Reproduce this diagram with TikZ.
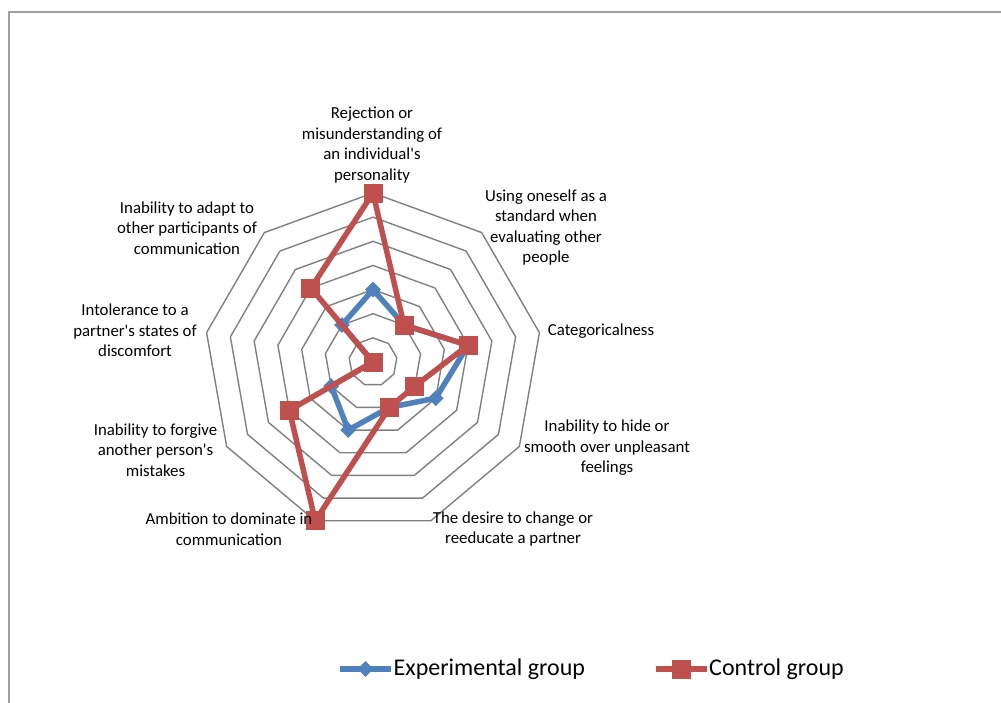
\documentclass[tikz,border=0pt]{standalone}
\usepackage{fontspec}
\setmainfont{Carlito}
\usetikzlibrary{shapes}
\definecolor{expblue}{RGB}{79,129,189}
\definecolor{ctrlred}{RGB}{192,80,77}
\definecolor{gridgray}{RGB}{128,128,128}

\begin{document}
\begin{tikzpicture}[x=1pt, y=-1pt,
  lbl/.style={align=center, inner sep=0pt, font=\fontsize{16.8}{20.5}\selectfont},
  ring/.style={draw=gridgray, line width=1.4pt},
  expline/.style={draw=expblue, line width=5.5pt, line join=round},
  ctrlline/.style={draw=ctrlred, line width=5.5pt, line join=round},
  expmark/.style={diamond, fill=expblue, inner sep=0pt, minimum size=16pt},
  ctrlmark/.style={rectangle, fill=ctrlred, inner sep=0pt, minimum size=19pt}]
\useasboundingbox (0,0) rectangle (1001,703);
\draw[gray!75, line width=2pt] (8.5,703) -- (8.5,12) -- (1001,12);

\begin{scope}[shift={(373,362)}]
  \foreach \r in {1,...,7}
    \draw[ring] (-90:{\r*24.14}) \foreach \k in {1,...,8} { -- ({-90+40*\k}:{\r*24.14}) } -- cycle;
  % experimental group
  \foreach \v [count=\k from 0] in {3,2,4,3,2,3,2,0,2}
    \coordinate (e\k) at ({-90+40*\k}:{\v*24.14});
  % control group
  \foreach \v [count=\k from 0] in {7,2,4,2,2,7,4,0,4}
    \coordinate (c\k) at ({-90+40*\k}:{\v*24.14});
\end{scope}

\draw[expline] (e0) -- (e1) -- (e2) -- (e3) -- (e4) -- (e5) -- (e6) -- (e7) -- (e8) -- cycle;
\foreach \k in {0,...,8} \node[expmark] at (e\k) {};
\draw[ctrlline] (c0) -- (c1) -- (c2) -- (c3) -- (c4) -- (c5) -- (c6) -- (c7) -- (c8) -- cycle;
\foreach \k in {0,...,8} \node[ctrlmark] at (c\k) {};

\node[lbl] (rej) at (372,145) {Rejection or\\misunderstanding of\\an individual\textquotesingle s\\personality};
\node[lbl] (std) at (546,227.5) {Using oneself as a\\standard when\\evaluating other\\people};
\node[lbl] (cat) at (601,331) {Categoricalness};
\node[lbl] (hide) at (607,448) {Inability to hide or\\smooth over unpleasant\\feelings};
\node[lbl] (chg) at (513,529) {The desire to change or\\reeducate a partner};
\node[lbl] (dom) at (229,529) {Ambition to dominate in\\communication};
\node[lbl] (forg) at (155.5,450) {Inability to forgive\\another person\textquotesingle s\\mistakes};
\node[lbl] (intol) at (135,330.5) {Intolerance to a\\partner\textquotesingle s states of\\discomfort};
\node[lbl] (adapt) at (187,228) {Inability to adapt to\\other participants of\\communication};

% legend
\coordinate (la) at (340,669);
\coordinate (lb) at (391,669);
\coordinate (lc) at (656,669);
\coordinate (ld) at (707,669);
\draw[expline] (la) -- (lb);
\node[expmark] at (365.5,669) {};
\node[anchor=west, inner sep=0pt, font=\fontsize{24}{29}\selectfont] (lexp) at (393.5,669) {Experimental group};
\draw[ctrlline] (lc) -- (ld);
\node[ctrlmark] at (681.5,669) {};
\node[anchor=west, inner sep=0pt, font=\fontsize{24}{29}\selectfont] (lctrl) at (709,669) {Control group};
\end{tikzpicture}
\end{document}
